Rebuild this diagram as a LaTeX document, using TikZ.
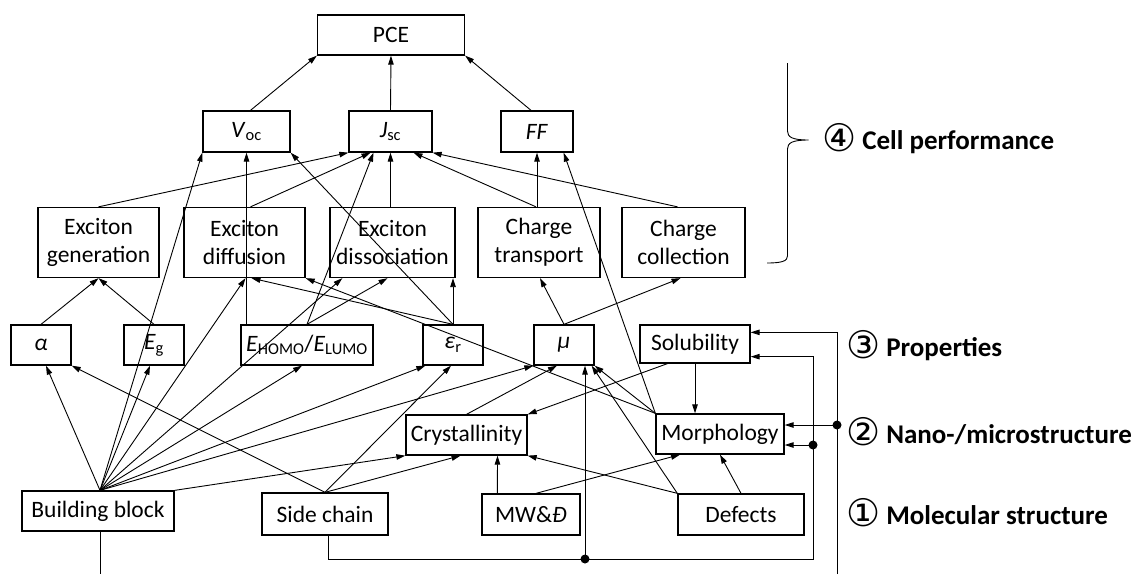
\documentclass[tikz,border=0pt]{standalone}
\usepackage{fontspec}
\setmainfont{Carlito}
\newfontfamily\circfont{DejaVu Sans}
\usetikzlibrary{arrows.meta,calc}

\begin{document}
\begin{tikzpicture}[x=1pt,y=-1pt,
    box/.style={draw,line width=1.3pt,inner sep=0pt,align=center,font=\fontsize{23.5}{28}\selectfont},
    arr/.style={line width=0.9pt,-{Triangle[length=9pt,width=5.5pt]}},
    wire/.style={line width=0.9pt},
    lbl/.style={anchor=base west,inner sep=0pt,font=\fontsize{27}{30}\selectfont\bfseries}]
    \useasboundingbox (0,0) rectangle (1132,574);

    \node[box,minimum width=147pt,minimum height=40pt] (pce) at (391,35) {PCE};
    \node[box,minimum width=87pt,minimum height=41pt] (voc) at (246.5,131.5) {\textit{V}\textsubscript{oc}};
    \node[box,minimum width=83pt,minimum height=41pt] (jsc) at (390.5,131.5) {\textit{J}\textsubscript{sc}};
    \node[box,minimum width=72pt,minimum height=41pt] (ff) at (537,131.5) {\textit{FF}};

    \node[box,minimum width=121pt,minimum height=70pt] (gen) at (98.5,242.5) {Exciton\\generation};
    \node[box,minimum width=121pt,minimum height=70pt] (diff) at (244.5,242.5) {Exciton\\diffusion};
    \node[box,minimum width=125pt,minimum height=70pt] (diss) at (392.5,242.5) {Exciton\\dissociation};
    \node[box,minimum width=122pt,minimum height=70pt] (trans) at (539,242.5) {Charge\\transport};
    \node[box,minimum width=123pt,minimum height=70pt] (coll) at (683.5,242.5) {Charge\\collection};

    \node[box,minimum width=60pt,minimum height=40pt] (alpha) at (41,345) {\textit{α}};
    \node[box,minimum width=60pt,minimum height=40pt] (eg) at (154,345) {\textit{E}\textsubscript{g}};
    \node[box,minimum width=132pt,minimum height=40pt] (ehomo) at (307,345) {\textit{E}\textsubscript{HOMO}/\textit{E}\textsubscript{LUMO}};
    \node[box,minimum width=60pt,minimum height=40pt] (er) at (453,345) {\textit{ε}\textsubscript{r}};
    \node[box,minimum width=60pt,minimum height=40pt] (mu) at (564,345) {\textit{μ}};
    \node[box,minimum width=110pt,minimum height=38pt] (sol) at (695,344) {Solubility};

    \node[box,minimum width=121pt,minimum height=40pt] (cryst) at (466.5,435) {Crystallinity};
    \node[box,minimum width=128pt,minimum height=40pt] (morph) at (720,434) {Morphology};

    \node[box,minimum width=152pt,minimum height=40pt] (bb) at (98,511) {Building block};
    \node[box,minimum width=126pt,minimum height=42pt] (side) at (325,514) {Side chain};
    \node[box,minimum width=98pt,minimum height=41pt] (mw) at (531,514.5) {MW\&\textit{Đ}};
    \node[box,minimum width=126pt,minimum height=41pt] (def) at (741,514.5) {Defects};

    \coordinate (apex) at ($(bb.north)+(2,0)$);
    \coordinate (botbb) at (100,574);
    \coordinate (botA) at (837,574);
    \coordinate (dotA) at (837,425);
    \coordinate (dotB) at (813,445);
    \coordinate (cornerB) at (813,559);
    \coordinate (dotmu) at (585,559);

    \draw[arr] ($(voc.north)+(4,0)$) -- (pce.south west);
    \draw[arr] (jsc.north) -- (pce.south);
    \draw[arr] ($(ff.north)+(-6,0)$) -- (pce.south east);

    \draw[arr] (apex) -- (voc.south west);
    \draw[arr] (voc.south |- ehomo.north) -- (voc.south);
    \draw[arr] (er.north) -- (voc.south east);

    \draw[arr] (gen.north) -- (jsc.south west);
    \draw[arr] ($(diff.north)+(6,0)$) -- ($(jsc.south)+(-20,0)$);
    \draw[arr] (ehomo.north) -- ($(jsc.south)+(-17,0)$);
    \draw[arr] (jsc.south |- diss.north) -- (jsc.south);
    \draw[arr] ($(trans.north)+(-3,0)$) -- ($(jsc.south)+(23,0)$);
    \draw[arr] ($(coll.north)+(-6,0)$) -- (jsc.south east);

    \draw[arr] (ff.south |- trans.north) -- (ff.south);
    \draw[arr] (morph.north west) -- ($(ff.south east)+(-10,0)$);

    \draw[arr] (alpha.north) -- (gen.south);
    \draw[arr] (eg.north) -- (gen.south);

    \draw[arr] (apex) -- ($(diff.south)+(1,0)$);
    \draw[arr] (er.north) -- ($(diff.south)+(7,0)$);
    \draw[arr] (morph.north west) -- (diff.south east);

    \draw[arr] (apex) -- ($(diss.south west)+(13,0)$);
    \draw[arr] (ehomo.north) -- ($(diss.south)+(-5,0)$);
    \draw[arr] (er.north) -- (er.north |- diss.south);

    \draw[arr] (mu.north) -- ($(trans.south)+(1,0)$);
    \draw[arr] (mu.north) -- ($(coll.south)+(-3,0)$);

    \draw[arr] (apex) -- ($(alpha.south)+(5,0)$);
    \draw[arr] (side.north) -- (alpha.south east);
    \draw[arr] (apex) -- ($(eg.south)+(-4,0)$);
    \draw[arr] (apex) -- ($(ehomo.south)+(-5,0)$);
    \draw[arr] (apex) -- ($(er.south west)+(3,0)$);
    \draw[arr] (side.north) -- ($(er.south)+(-2,0)$);

    \draw[arr] (apex) -- (mu.south west);
    \draw[arr] (cryst.north) -- ($(mu.south)+(-7,0)$);
    \draw[arr] (def.north west) -- ($(mu.south east)+(-3,0)$);
    \draw[arr] (morph.north west) -- (mu.south east);

    \draw[arr] (bb.north east) -- (cryst.south west);
    \draw[arr] (side.north) -- ($(cryst.south)+(-6,0)$);
    \draw[arr] ($(mw.north west)+(16,0)$) -- ($(cryst.south)+(31,0)$);
    \draw[arr] ($(sol.south west)+(28,0)$) -- (cryst.north east);
    \draw[arr] (def.north west) -- (cryst.south east);

    \draw[arr] (sol.south) -- (sol.south |- morph.north);
    \draw[arr] ($(mw.north)+(5,0)$) -- ($(morph.south)+(-40,0)$);
    \draw[arr] (def.north) -- (morph.south);

    \draw[wire] (bb.south -| botbb) -- (botbb);
    \draw[arr] (botA) |- ($(sol.north east)+(0,8)$);
    \draw[arr] (dotA) -- (dotA -| morph.east);
    \draw[arr] ($(side.south)+(3,0)$) |- (cornerB) |- ($(sol.south east)+(0,-7)$);
    \draw[arr] (dotB) -- (dotB -| morph.east);
    \draw[arr] (dotmu) -- (dotmu |- mu.south);
    \fill (dotA) circle (4.5pt);
    \fill (dotB) circle (4.5pt);
    \fill (dotmu) circle (4.5pt);

    \draw[wire] (787.5,63) -- (787.5,131) .. controls (787.5,137) and (792,140) .. (808.6,140)
        .. controls (792,140) and (787.5,143) .. (787.5,149) -- (787.5,256)
        .. controls (787.5,261) and (782,263) .. (767,263);

    \node[lbl] (perf) at (822,149) {\raisebox{-2.5pt}{\circfont\mdseries\fontsize{38}{38}\selectfont ④}\hspace{6pt}Cell performance};
    \node[lbl] (prop) at (846,356) {\raisebox{-2.5pt}{\circfont\mdseries\fontsize{38}{38}\selectfont ③}\hspace{6pt}Properties};
    \node[lbl] (nano) at (846,443.3) {\raisebox{-2.5pt}{\circfont\mdseries\fontsize{38}{38}\selectfont ②}\hspace{6pt}Nano-/microstructure};
    \node[lbl] (mol) at (846,524.3) {\raisebox{-2.5pt}{\circfont\mdseries\fontsize{38}{38}\selectfont ①}\hspace{6pt}Molecular structure};
\end{tikzpicture}
\end{document}
